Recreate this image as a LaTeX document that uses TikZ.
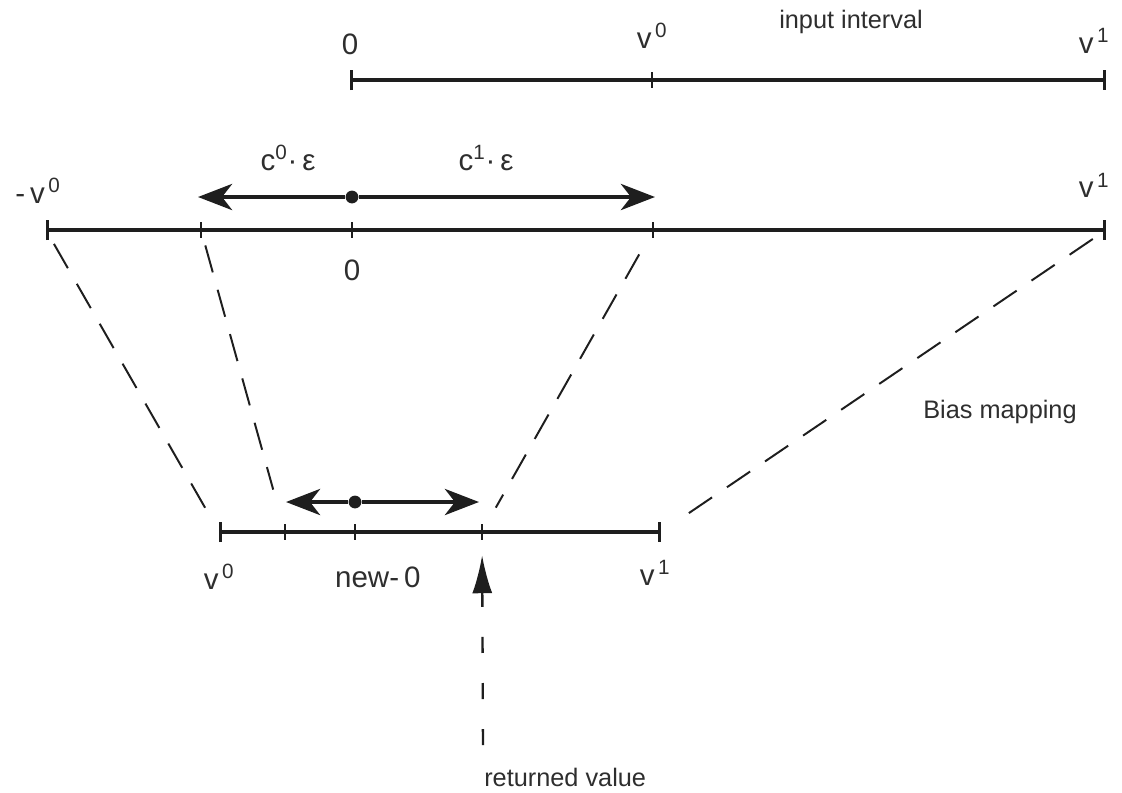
\documentclass[tikz,border=0pt]{standalone}
\usepackage{fontspec}
\setmainfont{Liberation Sans}
\usepackage{xcolor}
\usepackage{tikz}
\usetikzlibrary{arrows.meta,positioning}
\definecolor{inkdark}{HTML}{1E1E1E}
\definecolor{inktext}{HTML}{2E2E2E}
\newcommand{\vsup}[1]{v\textsuperscript{\,#1}}
\newcommand{\csup}[1]{c\textsuperscript{#1}·\,ε}

\begin{document}
\begin{tikzpicture}[x=0.025cm,y=-0.025cm,node distance=6mm]

\tikzset{
axis/.style={
    draw=inkdark,
    line width=2.2pt,
    {Bar[width=5mm]}-{Bar[width=5mm]}
},
tick/.style={draw=inkdark,line width=1.5pt},
arr/.style={
    draw=inkdark,
    line width=3.4pt,
    -{Stealth[length=8.5mm,width=6.5mm,inset=2.5mm]}
},
mapline/.style={draw=inkdark,line width=1.4pt,dash pattern=on 7mm off 4.5mm},
retarr/.style={
    draw=inkdark,
    line width=1.7pt,
    dash pattern=on 4mm off 7.5mm,
    -{Latex[length=9.5mm,width=5mm]}
},
pt/.style={circle,fill=inkdark,inner sep=0pt,minimum size=3.2mm},
lbl/.style={text=inktext,inner sep=0pt,font=\fontsize{21}{24}\selectfont},
note/.style={text=inktext,inner sep=0pt,font=\fontsize{18}{21}\selectfont}
}

\useasboundingbox (0,0) rectangle (1122,792);

% input interval
\coordinate (a0) at (350,80);
\coordinate (a1) at (652,80);
\coordinate (a2) at (1106,80);
% biased interval
\coordinate (b0) at (46,230);
\coordinate (b1) at (201,230);
\coordinate (b2) at (352,230);
\coordinate (b3) at (653,230);
\coordinate (b4) at (1106,230);
% mapped interval
\coordinate (c0) at (219,532);
\coordinate (c1) at (285,532);
\coordinate (c2) at (355,532);
\coordinate (c3) at (482,532);
\coordinate (c4) at (661,532);

\draw[axis] (a0) -- (a2);
\draw[axis] (b0) -- (b4);
\draw[axis] (c0) -- (c4);
\foreach \t in {a1,b1,b2,b3,c1,c2,c3}
    \draw[tick] ([yshift=2mm]\t) -- ([yshift=-2mm]\t);

\node[note] (intitle) at (851,22) {input interval};
\node[lbl, above=6.2mm of a0] (a0lbl) {0};
\node[lbl, above=7.8mm of a1] (a1lbl) {\vsup{0}};
\node[lbl, above=6.6mm of a2, xshift=-3mm] (a2lbl) {\vsup{1}};

% epsilon step
\node[pt] (mdot) at (352,197) {};
\coordinate (ml) at (198,197);
\coordinate (mr) at (655,197);
\draw[arr] (mdot) -- (ml);
\draw[arr] (mdot) -- (mr);
\node[lbl] (c0lbl) at (288,158) {\csup{0}};
\node[lbl] (c1lbl) at (486,158) {\csup{1}};

\node[lbl, above=6.6mm of b0, xshift=-2mm] (b0lbl) {-\,\vsup{0}};
\node[lbl, above=8mm of b4, xshift=-3mm] (b4lbl) {\vsup{1}};
\node[lbl, below=7.5mm of b2] (b2lbl) {0};

% bias mapping
\draw[mapline, shorten <=4mm, shorten >=4mm] (b0) -- (c0);
\draw[mapline, shorten <=4mm, shorten >=11mm] (b1) -- (c1);
\draw[mapline, shorten <=7mm, shorten >=7mm] (b3) -- (c3);
\draw[mapline, shorten <=4mm, shorten >=5mm] (b4) -- (c4);
\node[note] (biaslbl) at (1000,412) {Bias mapping};

% new step
\node[pt] (ldot) at (355,502) {};
\coordinate (ll) at (286,502);
\coordinate (lr) at (479,502);
\draw[arr] (ldot) -- (ll);
\draw[arr] (ldot) -- (lr);

\node[lbl, below=8mm of c0] (c0lbl) {\vsup{0}};
\node[lbl, below=8.6mm of c2, xshift=5.7mm] (c2lbl) {new-\,0};
\node[lbl, below=7mm of c4, xshift=-1.5mm] (c4lbl) {\vsup{1}};

% returned value
\coordinate (rvbase) at (483,745);
\node[note, anchor=north west] (retval) at (484,768) {returned value};
\draw[retarr, shorten >=5.8mm] (rvbase) -- (c3);

\end{tikzpicture}
\end{document}
